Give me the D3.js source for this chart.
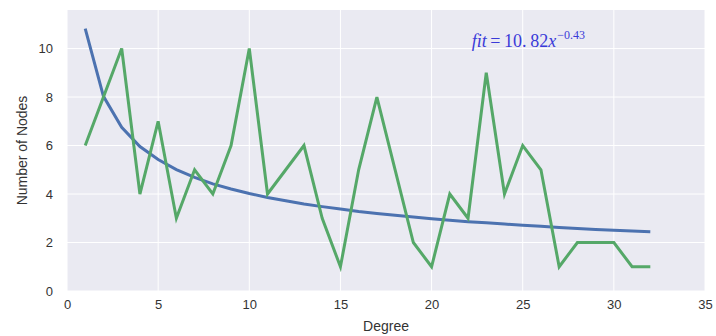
<!DOCTYPE html>
<html lang="en">
<head>
    <meta charset="UTF-8">
    <title>Degree distribution</title>
    <script src="https://d3js.org/d3.v7.min.js"></script>
    <style>
        body { margin: 0; background: #fff; }
        svg { display: block; }
    </style>
</head>
<body>
    <svg width="716" height="336"></svg>

    <script>
        // degree values on the x axis
        const degrees = [1, 2, 3, 4, 5, 6, 7, 8, 9, 10, 11, 12, 13, 14, 15, 16,
                         17, 18, 19, 20, 21, 22, 23, 24, 25, 26, 27, 28, 29, 30, 31, 32];
        // observed number of nodes per degree (green)
        const nodeCounts = [6, 8, 10, 4, 7, 3, 5, 4, 6, 10, 4, 5, 6, 3, 1, 5,
                            8, 5, 2, 1, 4, 3, 9, 4, 6, 5, 1, 2, 2, 2, 1, 1];
        // power-law fit, fit = 10.82 x^-0.43 (blue)
        const fitValues = [10.82, 8.03, 6.75, 5.96, 5.42, 5.01, 4.69, 4.42, 4.21, 4.02, 3.86,
                           3.72, 3.59, 3.48, 3.38, 3.28, 3.20, 3.12, 3.05, 2.98, 2.92, 2.86,
                           2.81, 2.76, 2.71, 2.67, 2.62, 2.58, 2.54, 2.51, 2.47, 2.44];
        const xTicks = [0, 5, 10, 15, 20, 25, 30, 35];
        const yTicks = [0, 2, 4, 6, 8, 10];

        const margin = { top: 10, right: 11, bottom: 45, left: 67 };
        const svg = d3.select('svg');
        const width = +svg.attr('width') - margin.left - margin.right;
        const height = +svg.attr('height') - margin.top - margin.bottom;

        const x = d3.scaleLinear().domain([0, 35]).range([0, width]);
        const y = d3.scaleLinear().domain([0, 11.59]).range([height, 0]);

        const g = svg.append('g')
            .attr('transform', `translate(${margin.left},${margin.top})`);

        g.append('rect')
            .attr('width', width)
            .attr('height', height)
            .attr('fill', '#eaeaf2');

        // grid
        g.append('g')
            .selectAll('line')
            .data(xTicks)
            .join('line')
            .attr('x1', d => x(d)).attr('x2', d => x(d))
            .attr('y1', 0).attr('y2', height)
            .attr('stroke', '#fff').attr('stroke-width', 1);

        g.append('g')
            .selectAll('line')
            .data(yTicks)
            .join('line')
            .attr('x1', 0).attr('x2', width)
            .attr('y1', d => y(d)).attr('y2', d => y(d))
            .attr('stroke', '#fff').attr('stroke-width', 1);

        // axes (no tick marks, seaborn darkgrid style)
        const xAxis = g.append('g')
            .attr('transform', `translate(0,${height})`)
            .call(d3.axisBottom(x).tickValues(xTicks).tickSize(0).tickPadding(9));
        const yAxis = g.append('g')
            .call(d3.axisLeft(y).tickValues(yTicks).tickSize(0).tickPadding(14));

        [xAxis, yAxis].forEach(ax => {
            ax.select('.domain').remove();
            ax.selectAll('text')
                .attr('font-family', '"Liberation Sans", Arial, sans-serif')
                .attr('font-size', 13)
                .attr('fill', '#333');
        });

        const line = vals => d3.line()
            .x((d, i) => x(degrees[i]))
            .y(d => y(d))(vals);

        g.append('path')
            .attr('d', line(fitValues))
            .attr('fill', 'none')
            .attr('stroke', '#4c72b0')
            .attr('stroke-width', 3);

        g.append('path')
            .attr('d', line(nodeCounts))
            .attr('fill', 'none')
            .attr('stroke', '#55a868')
            .attr('stroke-width', 3)
            .attr('stroke-linejoin', 'miter');

        // fit annotation
        const note = g.append('text')
            .attr('x', x(22.2))
            .attr('y', y(10.05))
            .attr('fill', '#3a3ad8')
            .attr('font-family', '"Liberation Serif", "DejaVu Serif", serif')
            .attr('font-size', 18);
        note.append('tspan').attr('font-style', 'italic').text('fit');
        note.append('tspan').text('\u2009=\u200910.\u200982');
        note.append('tspan').attr('font-style', 'italic').text('x');
        note.append('tspan').attr('font-size', 12).attr('dx', 1).attr('dy', -8).text('−0.43');

        // axis labels
        svg.append('text')
            .attr('x', margin.left + width / 2)
            .attr('y', 331)
            .attr('text-anchor', 'middle')
            .attr('font-family', '"Liberation Sans", Arial, sans-serif')
            .attr('font-size', 14)
            .attr('fill', '#333')
            .text('Degree');

        svg.append('text')
            .attr('transform', `translate(27,${margin.top + height / 2}) rotate(-90)`)
            .attr('text-anchor', 'middle')
            .attr('font-family', '"Liberation Sans", Arial, sans-serif')
            .attr('font-size', 14)
            .attr('fill', '#333')
            .text('Number of Nodes');
    </script>
</body>
</html>
